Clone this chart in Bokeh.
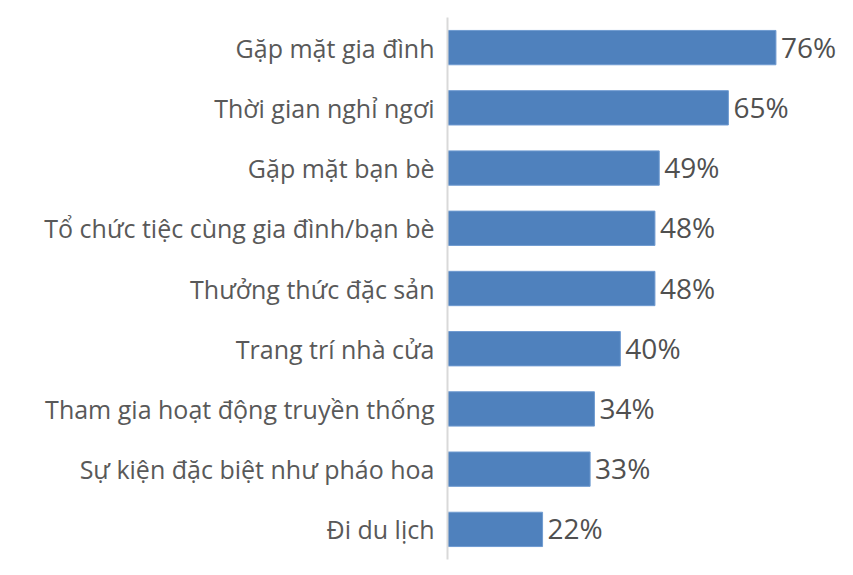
from bokeh.plotting import figure
from bokeh.models import Range1d, ColumnDataSource, FactorRange
from bokeh.core.properties import value
from bokeh.embed import file_html
from bokeh.resources import INLINE

categories = [
    "Gặp mặt gia đình",
    "Thời gian nghỉ ngơi",
    "Gặp mặt bạn bè",
    "Tổ chức tiệc cùng gia đình/bạn bè",
    "Thưởng thức đặc sản",
    "Trang trí nhà cửa",
    "Tham gia hoạt động truyền thống",
    "Sự kiện đặc biệt như pháo hoa",
    "Đi du lịch",
]
values = [76, 65, 49, 48, 48, 40, 34, 33, 22]
labels = [f"{v}%" for v in values]

FONT = "Open Sans"
GRAY = "#595959"

src = ColumnDataSource(dict(cat=categories, val=values, lab=labels))

p = figure(
    width=845, height=567,
    y_range=FactorRange(*list(reversed(categories))),
    x_range=Range1d(0, 92.1),
    output_backend="svg", toolbar_location=None,
    min_border_left=447, min_border_right=0, min_border_top=17, min_border_bottom=8,
)
p.hbar(y="cat", right="val", left=0, height=0.57, source=src,
       fill_color="#4f81bd", line_color="#6f9bd1", line_width=1)
p.text(x="val", y="cat", text="lab", source=src, x_offset=5, y_offset=-1,
       text_baseline="middle", text_align="left",
       text_font=value(FONT), text_font_size="28px", text_color="#505050")

p.xaxis.visible = False
p.xgrid.visible = False
p.ygrid.visible = False
p.outline_line_color = None
ax = p.yaxis[0]
ax.axis_line_color = "#d9d9d9"
ax.axis_line_width = 2
ax.major_tick_line_color = None
ax.minor_tick_line_color = None
ax.major_label_standoff = 7
ax.major_label_text_font = FONT
ax.major_label_text_font_size = "25px"
ax.major_label_text_color = GRAY
p.background_fill_color = "white"
p.border_fill_color = "white"

open("out.html", "w").write(file_html(p, INLINE))
